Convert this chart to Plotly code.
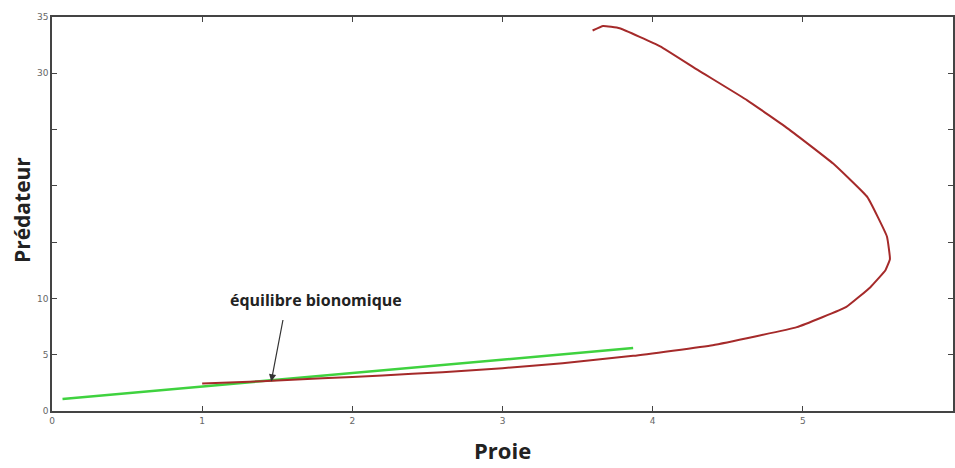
import plotly.graph_objects as go

# Data
prey_red = [1.00, 1.40, 1.80, 2.20, 2.60, 3.00, 3.40, 3.87, 4.40, 4.96, 5.29, 5.45,
            5.55, 5.58, 5.56, 5.43, 5.20, 4.91, 4.63, 4.30, 4.05, 3.78, 3.67, 3.60]
pred_red = [2.45, 2.65, 2.90, 3.15, 3.45, 3.80, 4.25, 4.90, 5.85, 7.45, 9.25, 11.0,
            12.5, 13.5, 15.5, 19.0, 22.0, 25.0, 27.6, 30.3, 32.4, 34.0, 34.2, 33.8]

prey_green = [0.07, 3.87]
pred_green = [1.07, 5.60]

x_ticks = [0, 1, 2, 3, 4, 5, 6]
y_ticks = [0, 5, 10, 15, 20, 25, 30, 35]
y_ticktext = ["0", "5", "10", "", "", "", "30", "35"]

eq_x, eq_y = 1.46, 2.62
label_x, label_y = 1.76, 9.9
label_text = "équilibre bionomique"
x_title = "Proie"
y_title = "Prédateur"

fig = go.Figure()
fig.add_trace(go.Scatter(x=prey_green, y=pred_green, mode="lines",
                         line=dict(color="#3fd23f", width=2.5), showlegend=False))
fig.add_trace(go.Scatter(x=prey_red, y=pred_red, mode="lines",
                         line=dict(color="#a52a2a", width=2, shape="spline", smoothing=0.3),
                         showlegend=False))

fig.add_annotation(x=eq_x, y=eq_y, xref="x", yref="y", text="", showarrow=True,
                   ax=12, ay=-63, arrowhead=2, arrowsize=1.2, arrowwidth=1.2,
                   arrowcolor="#333333")
fig.add_annotation(x=label_x, y=label_y, xref="x", yref="y", text=label_text, showarrow=False,
                   font=dict(family="Open Sans", size=16, color="#222222", weight="bold"))

fig.add_annotation(x=0.5, y=-0.099, xref="paper", yref="paper", text=x_title, showarrow=False,
                   xanchor="center", yanchor="middle",
                   font=dict(family="Open Sans", size=22, color="#222222", weight="bold"))
fig.add_annotation(x=-0.0333, y=0.51, xref="paper", yref="paper", text=y_title, showarrow=False,
                   xanchor="center", yanchor="middle", textangle=-90,
                   font=dict(family="Open Sans", size=21, color="#222222", weight="bold"))

axis_common = dict(showline=True, linecolor="#444444", linewidth=1.5, mirror="ticks",
                   ticks="inside", ticklen=5, tickcolor="#444444", showgrid=False,
                   zeroline=False, automargin=False,
                   tickfont=dict(family="DejaVu Sans", size=9, color="#666666"))

fig.update_xaxes(range=[0, 6], tickvals=x_ticks, **axis_common)
fig.update_yaxes(range=[0, 35], tickvals=y_ticks, ticktext=y_ticktext, **axis_common)

fig.update_layout(width=955, height=468, margin=dict(l=52, r=2, t=17, b=57),
                  plot_bgcolor="white", paper_bgcolor="white")

fig.write_html("out.html", config={"responsive": False, "displayModeBar": False},
               post_script="document.body.style.margin='0';document.body.style.overflow='hidden';")
